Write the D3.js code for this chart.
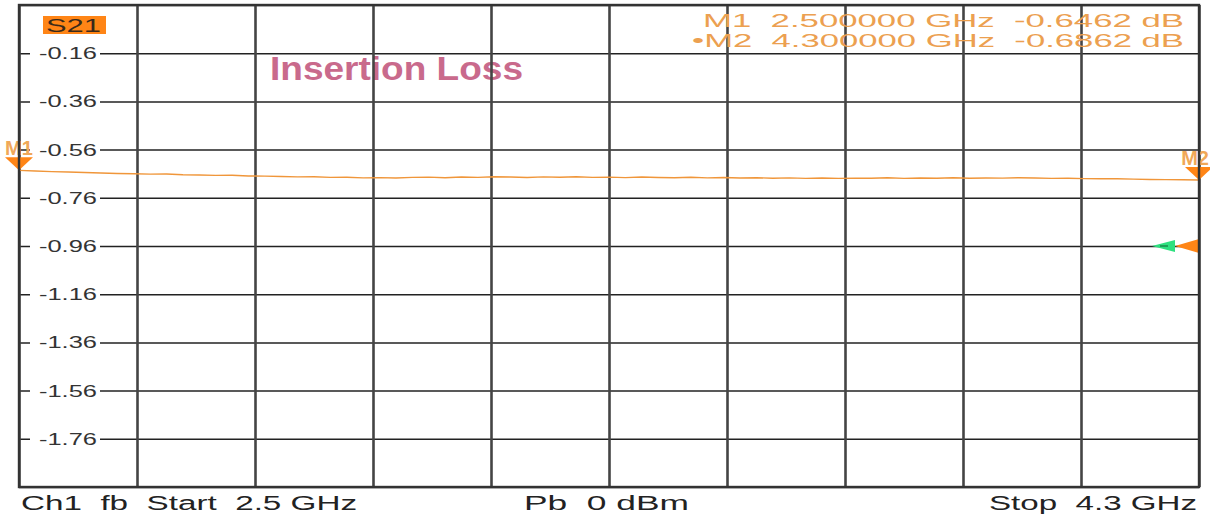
<!DOCTYPE html>
<html>
<head>
<meta charset="utf-8">
<script src="https://cdn.jsdelivr.net/npm/d3@7"></script>
<style>
  html, body { margin: 0; padding: 0; background: #fff; }
  svg { display: block; font-family: 'Liberation Sans', Arial, sans-serif; }
</style>
</head>
<body>
<div id="chart"></div>
<script>
// trace (GHz, dB)
const freqs = [
  2.500, 2.525, 2.550, 2.575, 2.600, 2.625, 2.650, 2.675, 2.700, 2.725,
  2.750, 2.775, 2.800, 2.825, 2.850, 2.875, 2.900, 2.925, 2.950, 2.975,
  3.000, 3.025, 3.050, 3.075, 3.100, 3.125, 3.150, 3.175, 3.200, 3.225,
  3.250, 3.275, 3.300, 3.325, 3.350, 3.375, 3.400, 3.425, 3.450, 3.475,
  3.500, 3.525, 3.550, 3.575, 3.600, 3.625, 3.650, 3.675, 3.700, 3.725,
  3.750, 3.775, 3.800, 3.825, 3.850, 3.875, 3.900, 3.925, 3.950, 3.975,
  4.000, 4.025, 4.050, 4.075, 4.100, 4.125, 4.150, 4.175, 4.200, 4.225,
  4.250, 4.275, 4.300
];
const s21 = [
  -0.6462, -0.6489, -0.6512, -0.6530, -0.6548, -0.6572, -0.6590, -0.6603, -0.6618, -0.6612,
  -0.6641, -0.6652, -0.6671, -0.6664, -0.6695, -0.6702, -0.6718, -0.6733, -0.6726, -0.6751,
  -0.6748, -0.6772, -0.6761, -0.6779, -0.6753, -0.6742, -0.6768, -0.6735, -0.6751, -0.6727,
  -0.6740, -0.6758, -0.6732, -0.6749, -0.6725, -0.6753, -0.6741, -0.6762, -0.6738, -0.6755,
  -0.6768, -0.6747, -0.6772, -0.6759, -0.6781, -0.6766, -0.6789, -0.6774, -0.6792, -0.6778,
  -0.6795, -0.6782, -0.6788, -0.6771, -0.6793, -0.6780, -0.6786, -0.6769, -0.6791, -0.6777,
  -0.6784, -0.6766, -0.6779, -0.6795, -0.6786, -0.6803, -0.6812, -0.6807, -0.6826, -0.6838,
  -0.6845, -0.6853, -0.6862
];

const yTicks = [-0.16, -0.36, -0.56, -0.76, -0.96, -1.16, -1.36, -1.56, -1.76];
const yGrid = [0.04, -0.16, -0.36, -0.56, -0.76, -0.96, -1.16, -1.36, -1.56, -1.76, -1.96];
const xGrid = [2.5, 2.68, 2.86, 3.04, 3.22, 3.4, 3.58, 3.76, 3.94, 4.12, 4.3];

const markers = [
  { name: 'M1', freq: 2.5, value: -0.6462, anchor: 'middle', dx: 0 },
  { name: 'M2', freq: 4.3, value: -0.6862, anchor: 'end', dx: 10 }
];
const markerLines = [
  'M1  2.500000 GHz  -0.6462 dB',
  '\u2022M2  4.300000 GHz  -0.6862 dB'
];
const refLevel = -0.96;
const footer = ['Ch1  fb  Start  2.5 GHz', 'Pb  0 dBm', 'Stop  4.3 GHz'];

document.addEventListener('DOMContentLoaded', () => {
  drawChart();
});

function drawChart() {
  const width = 1210;
  const height = 514;
  const area = { left: 19, right: 1199, top: 5, bottom: 487 };

  const svg = d3.select('#chart')
    .append('svg')
    .attr('width', width)
    .attr('height', height);

  svg.append('rect').attr('width', width).attr('height', height).attr('fill', '#fff');

  const xScale = d3.scaleLinear().domain([2.5, 4.3]).range([area.left, area.right]);
  const yScale = d3.scaleLinear().domain([0.04, -1.96]).range([area.top, area.bottom]);

  // title sits under the grid
  svg.append('text')
    .attr('x', 270)
    .attr('y', 80)
    .attr('textLength', 253)
    .attr('lengthAdjust', 'spacingAndGlyphs')
    .attr('font-size', 34)
    .attr('font-weight', 'bold')
    .attr('fill', '#c96a8c')
    .text('Insertion Loss');

  // horizontal grid
  const hGrid = svg.append('g')
    .attr('transform', `translate(${area.left}, 0)`)
    .call(d3.axisLeft(yScale).tickValues(yGrid).tickFormat('').tickSize(-(area.right - area.left)));
  hGrid.select('.domain').remove();
  hGrid.selectAll('line').attr('stroke', '#222').attr('stroke-width', 1.5);

  // vertical grid
  const vGrid = svg.append('g')
    .attr('transform', `translate(0, ${area.bottom})`)
    .call(d3.axisBottom(xScale).tickValues(xGrid).tickFormat('').tickSize(-(area.bottom - area.top)));
  vGrid.select('.domain').remove();
  vGrid.selectAll('line').attr('stroke', '#444').attr('stroke-width', 2.6);

  // y labels inside the plot, on a white patch
  const labels = svg.append('g');
  yTicks.forEach((t) => {
    const y = yScale(t);
    labels.append('rect')
      .attr('x', 30).attr('y', y - 8).attr('width', 70).attr('height', 16)
      .attr('fill', '#fff');
    labels.append('text')
      .attr('x', 39)
      .attr('y', y + 6)
      .attr('textLength', 58)
      .attr('lengthAdjust', 'spacingAndGlyphs')
      .attr('font-size', 17)
      .attr('fill', '#333')
      .text(t.toFixed(2));
  });

  // S21 tag
  svg.append('rect')
    .attr('x', 43).attr('y', 16).attr('width', 63).attr('height', 18)
    .attr('fill', '#ff8516');
  svg.append('text')
    .attr('x', 46).attr('y', 32)
    .attr('textLength', 55)
    .attr('lengthAdjust', 'spacingAndGlyphs')
    .attr('font-size', 19)
    .attr('fill', '#3a2a1a')
    .text('S21');

  // marker readout
  svg.append('g')
    .selectAll('text')
    .data(markerLines)
    .join('text')
    .attr('x', 1184)
    .attr('y', (d, i) => 27 + i * 20)
    .attr('text-anchor', 'end')
    .attr('textLength', (d, i) => (i === 0 ? 481 : 492))
    .attr('lengthAdjust', 'spacingAndGlyphs')
    .attr('font-size', 19)
    .attr('fill', '#eca050')
    .style('white-space', 'pre')
    .text((d) => d);

  // trace
  const line = d3.line()
    .x((d, i) => xScale(freqs[i]))
    .y((d) => yScale(d));
  svg.append('path')
    .datum(s21)
    .attr('fill', 'none')
    .attr('stroke', '#f0963a')
    .attr('stroke-width', 1.4)
    .attr('d', line);

  // markers
  const mk = svg.append('g');
  markers.forEach((m) => {
    const x = xScale(m.freq);
    const y = yScale(m.value);
    mk.append('path')
      .attr('d', `M${x - 14},${y - 13} L${x + 14},${y - 13} L${x},${y} Z`)
      .attr('fill', '#ff8516');
    mk.append('text')
      .attr('x', x + m.dx)
      .attr('y', y - 15)
      .attr('text-anchor', m.anchor)
      .attr('font-size', 20)
      .attr('font-weight', 'bold')
      .attr('fill', '#f0a858')
      .text(m.name);
  });

  // reference level arrows at the right edge
  const ry = yScale(refLevel);
  svg.append('path')
    .attr('d', `M1152,${ry} L1175,${ry - 6} L1175,${ry + 6} Z`)
    .attr('fill', '#2ee07f');
  svg.append('line')
    .attr('x1', 1160).attr('x2', 1168).attr('y1', ry).attr('y2', ry)
    .attr('stroke', '#1a8a4a').attr('stroke-width', 1.5);
  svg.append('path')
    .attr('d', `M1175,${ry} L1199,${ry - 7} L1199,${ry + 7} Z`)
    .attr('fill', '#ff8516');

  // frame
  svg.append('rect')
    .attr('x', area.left).attr('y', area.top)
    .attr('width', area.right - area.left).attr('height', area.bottom - area.top)
    .attr('fill', 'none')
    .attr('stroke', '#333')
    .attr('stroke-width', 2.4);

  // footer
  const foot = [
    { x: 21, w: 336 },
    { x: 524, w: 165 },
    { x: 989, w: 208 }
  ];
  svg.append('g')
    .selectAll('text')
    .data(footer)
    .join('text')
    .attr('x', (d, i) => foot[i].x)
    .attr('y', 510)
    .attr('textLength', (d, i) => foot[i].w)
    .attr('lengthAdjust', 'spacingAndGlyphs')
    .attr('font-size', 20)
    .attr('fill', '#222')
    .style('white-space', 'pre')
    .text((d) => d);
}
</script>
</body>
</html>
